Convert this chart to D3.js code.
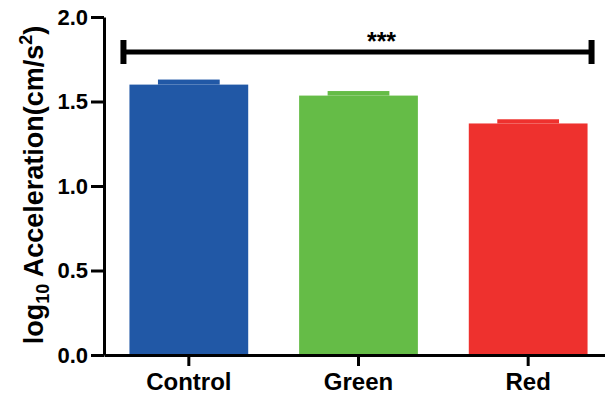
<!DOCTYPE html>
<html><head><meta charset="utf-8">
<script src="https://cdn.jsdelivr.net/npm/d3@7"></script>
<style>
body{margin:0;background:#fff;}
svg{display:block;}
text{font-family:"Liberation Sans",Arial,Helvetica,sans-serif;font-weight:bold;}
</style></head>
<body>
<svg id="c" width="605" height="398"></svg>
<script>
const categories = ["Control", "Green", "Red"];
const means = [1.60, 1.535, 1.37];
const errors = [0.021, 0.018, 0.016];
const colors = ["#2158A6", "#65BC47", "#EE312E"];
const yTicks = [0, 0.5, 1.0, 1.5, 2.0];
const sigLabel = "***";

const svg = d3.select("#c");
const y = d3.scaleLinear().domain([0, 2]).range([355, 17]);
const x = d3.scaleBand().domain(categories).range([104, 613]).paddingInner(0.3).paddingOuter(0.15);

// bars
svg.selectAll("rect.bar").data(categories).enter().append("rect")
  .attr("x", d => x(d)).attr("width", x.bandwidth())
  .attr("y", (d, i) => y(means[i])).attr("height", (d, i) => y(0) - y(means[i]))
  .attr("fill", (d, i) => colors[i]);

// error bars (upper), same colour
const capW = x.bandwidth() * 0.52;
categories.forEach((d, i) => {
  const cx = x(d) + x.bandwidth() / 2;
  svg.append("rect")
    .attr("x", cx - capW / 2).attr("width", capW)
    .attr("y", y(means[i] + errors[i]) - 1.5)
    .attr("height", y(means[i]) - y(means[i] + errors[i]) + 1.5)
    .attr("fill", colors[i]);
});

// y axis
const ya = svg.append("g").attr("transform", "translate(104,0)")
  .call(d3.axisLeft(y).tickValues(yTicks).tickFormat(d3.format(".1f")).tickSize(13).tickSizeOuter(0).tickPadding(3));
ya.select(".domain").attr("stroke", "#000").attr("stroke-width", 3);
ya.selectAll(".tick line").attr("stroke", "#000").attr("stroke-width", 3);
ya.selectAll(".tick text").attr("font-size", 22).attr("fill", "#000")
  .style("font-family", '"Liberation Sans",Arial,sans-serif').style("font-weight", "bold");

// x axis
const xa = svg.append("g").attr("transform", "translate(0,355)")
  .call(d3.axisBottom(x).tickSize(11).tickSizeOuter(0).tickPadding(7));
xa.select(".domain").attr("stroke", "#000").attr("stroke-width", 3);
xa.selectAll(".tick line").attr("stroke", "#000").attr("stroke-width", 3);
xa.selectAll(".tick text").attr("font-size", 24).attr("fill", "#000")
  .style("font-family", '"Liberation Sans",Arial,sans-serif').style("font-weight", "bold");

// significance bracket
const bx1 = x(categories[0]) - 6, bx2 = x(categories[2]) + x.bandwidth() + 4;
const by = 52;
svg.append("line").attr("x1", bx1).attr("x2", bx2).attr("y1", by).attr("y2", by)
  .attr("stroke", "#000").attr("stroke-width", 5);
[bx1, bx2].forEach(bx => {
  svg.append("line").attr("x1", bx).attr("x2", bx).attr("y1", by - 12).attr("y2", by + 12)
    .attr("stroke", "#000").attr("stroke-width", 6);
});
svg.append("text").attr("x", (bx1 + bx2) / 2 + 24).attr("y", 50).attr("text-anchor", "middle")
  .attr("font-size", 25).text(sigLabel);

// y title
const t = svg.append("text").attr("transform", "translate(43,185) rotate(-90)")
  .attr("text-anchor", "middle").attr("font-size", 27);
t.append("tspan").text("log");
t.append("tspan").attr("font-size", 18).attr("dy", 6).text("10");
t.append("tspan").attr("dy", -6).text(" Acceleration(cm/s");
t.append("tspan").attr("font-size", 18).attr("dy", -11).text("2");
t.append("tspan").attr("dy", 11).text(")");
</script>
</body></html>
